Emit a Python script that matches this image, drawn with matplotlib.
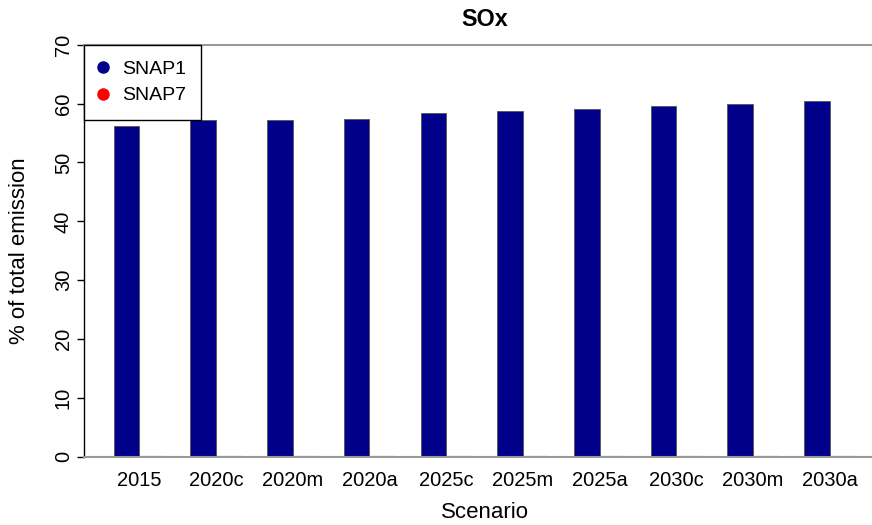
import matplotlib
matplotlib.use("Agg")
import matplotlib.pyplot as plt
from matplotlib.lines import Line2D
import numpy as np

plt.rcParams["font.family"] = ["Liberation Sans", "DejaVu Sans"]

# data
scenarios = ["2015", "2020c", "2020m", "2020a", "2025c", "2025m", "2025a",
             "2030c", "2030m", "2030a"]
snap1 = [56.2, 57.3, 57.3, 57.4, 58.4, 58.7, 59.1, 59.6, 60.0, 60.4]
snap7 = [0.2, 0.05, 0.05, 0.05, 0.05, 0.05, 0.05, 0.05, 0.05, 0.05]

W, H = 872, 525
fig = plt.figure(figsize=(W / 100, H / 100), dpi=100)

# plot region in pixels (runs past the right edge, like the original)
x0, x1 = 84, 885
y_top, y_bot = 44.8, 456.7
ax = fig.add_axes([x0 / W, 1 - y_bot / H, (x1 - x0) / W, (y_bot - y_top) / H])

# R style barplot: bar width 1, space 1 between groups
idx = np.arange(len(scenarios))
left1 = 1 + 3 * idx
ax.bar(left1, snap1, width=1, align="edge", color="#00008B",
       edgecolor="#555555", linewidth=0.6, label="SNAP1")
ax.bar(left1 + 1, snap7, width=1, align="edge", color="#FF0000",
       edgecolor="#444444", linewidth=0.8, label="SNAP7")

ax.set_xlim(-0.16, 31.16)
ax.set_ylim(0, 70)

for s in ["top", "bottom", "right"]:
    ax.spines[s].set_color("#999999")
    ax.spines[s].set_linewidth(1.5)
ax.spines["left"].set_color("black")
ax.spines["left"].set_linewidth(1.0)

ax.set_xticks(left1 + 1)
ax.set_xticklabels(scenarios, fontsize=14.5)
ax.tick_params(axis="x", length=0, pad=10)

ax.set_yticks(range(0, 71, 10))
ax.set_yticklabels([str(v) for v in range(0, 71, 10)], fontsize=14.5,
                   rotation=90, va="center")
ax.tick_params(axis="y", length=5, width=1, pad=3)

ax.set_ylabel("% of total emission", fontsize=16)
ax.yaxis.set_label_coords((20 - x0) / (x1 - x0), 0.5)
ax.set_xlabel("Scenario", fontsize=16)
ax.xaxis.set_label_coords(0.5, -(513 - y_bot) / (y_bot - y_top))
ax.xaxis.label.set_va("center")
ax.yaxis.label.set_va("center")

ax.text(0.5, 1 + (y_top - 19) / (y_bot - y_top), "SOx", transform=ax.transAxes,
        ha="center", va="center", fontsize=16.8, fontweight="bold")

handles = [
    Line2D([], [], marker="o", linestyle="none", color="#00008B", markersize=8),
    Line2D([], [], marker="o", linestyle="none", color="#FF0000", markersize=8),
]
leg = fig.legend(handles, ["SNAP1", "SNAP7"], loc="upper left",
                 bbox_to_anchor=(x0 / W, 1 - y_top / H),
                 bbox_transform=fig.transFigure, borderaxespad=0,
                 fontsize=14, frameon=True, fancybox=False,
                 handlelength=0.4, handletextpad=0.75, labelspacing=0.45,
                 borderpad=0.8)
leg.get_frame().set_edgecolor("black")
leg.get_frame().set_linewidth(1.0)
leg.get_frame().set_alpha(1)

fig.savefig("out.png", dpi=100)
